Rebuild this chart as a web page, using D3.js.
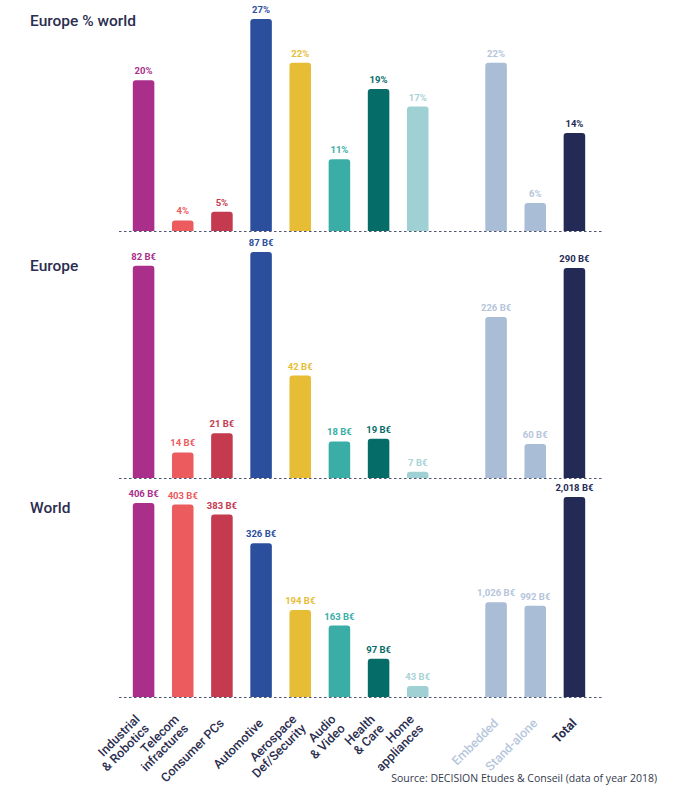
<!DOCTYPE html>
<html>
<head>
<meta charset="utf-8">
<script src="https://cdn.jsdelivr.net/npm/d3@7"></script>
<style>
  body { margin: 0; background: #fff; }
  svg { display: block; font-family: Roboto, "Noto Sans", sans-serif; }
</style>
</head>
<body>
<svg></svg>
<script>
// categories, "|" splits the rotated tick label in two lines
let categories = [
    "Industrial|& Robotics", "Telecom|infractures", "Consumer PCs", "Automotive",
    "Aerospace|Def/Security", "Audio|& Video", "Health|& Care", "Home|appliances",
    "Embedded", "Stand-alone", "Total"
];
let groups = ["sector", "sector", "sector", "sector", "sector", "sector", "sector", "sector",
    "total", "total", "total"];

let europeShare = [20, 4, 5, 27, 22, 11, 19, 17, 22, 6, 14];   // %
let europe = [82, 14, 21, 87, 42, 18, 19, 7, 226, 60, 290];     // B€
let world = [406, 403, 383, 326, 194, 163, 97, 43, 1026, 992, 2018]; // B€

let barColors = ["#a92f8b", "#ec5b5e", "#c43a4f", "#2c4f9d", "#e7bd35", "#3aada6",
    "#056c67", "#9fd0d3", "#a9bdd6", "#a9bdd6", "#242a56"];
let labelColors = ["#a92f8b", "#ec5b5e", "#c43a4f", "#2c4f9d", "#e7bd35", "#3aada6",
    "#056c67", "#a8d3d6", "#b5c5db", "#b5c5db", "#242a56"];

let width = 674,
    height = 793;

let svg = d3.select("svg")
    .attr("width", width)
    .attr("height", height);

let navy = "#2b2e4f";

// one empty slot between Home appliances and Embedded
let slots = categories.slice(0, 8).concat(["gap"], categories.slice(8));
let x = d3.scaleBand()
    .domain(slots)
    .range([124, 594])
    .paddingInner(0.45)
    .paddingOuter(0.225);

let fmt = d3.format(",");

let panels = [
    {
        title: "Europe % world", titleY: 26, base: 231,
        values: europeShare, text: d => d + "%",
        scales: {
            sector: d3.scaleLinear().domain([2.8, 27]).range([231, 19]),
            total: d3.scaleLinear().domain([2.8, 27]).range([231, 19])
        }
    },
    {
        title: "Europe", titleY: 271, base: 478,
        values: europe, text: d => fmt(d) + " B€",
        scales: {
            sector: d3.scaleLinear().domain([4.7, 87]).range([478, 252]),
            total: d3.scaleLinear().domain([15.5, 290]).range([478, 268])
        }
    },
    {
        title: "World", titleY: 513, base: 697,
        values: world, text: d => fmt(d) + " B€",
        scales: {
            sector: d3.scaleLinear().domain([21.2, 406]).range([697, 503]),
            total: d3.scaleLinear().domain([132, 2018]).range([697, 497])
        }
    }
];

function barPath(x0, y0, w, h, r) {
    r = Math.min(r, h, w / 2);
    return `M${x0},${y0 + h}V${y0 + r}Q${x0},${y0} ${x0 + r},${y0}H${x0 + w - r}` +
        `Q${x0 + w},${y0} ${x0 + w},${y0 + r}V${y0 + h}Z`;
}

panels.forEach(p => {
    let g = svg.append("g");

    g.append("text")
        .attr("x", 30)
        .attr("y", p.titleY)
        .attr("fill", navy)
        .attr("font-size", 15.5)
        .attr("font-weight", 500)
        .text(p.title);

    let rows = categories.map((c, i) => ({ cat: c, i: i, v: p.values[i], grp: groups[i] }));

    g.selectAll("path.bar")
        .data(rows)
        .enter().append("path")
        .attr("class", "bar")
        .attr("fill", d => barColors[d.i])
        .attr("d", d => {
            let y = p.scales[d.grp](d.v);
            return barPath(x(d.cat), y, x.bandwidth(), p.base - y, 3);
        });

    g.selectAll("text.val")
        .data(rows)
        .enter().append("text")
        .attr("class", "val")
        .attr("x", d => x(d.cat) + x.bandwidth() / 2)
        .attr("y", d => p.scales[d.grp](d.v) - 6)
        .attr("text-anchor", "middle")
        .attr("font-size", 9.5)
        .attr("font-weight", 700)
        .attr("fill", d => labelColors[d.i])
        .text(d => p.text(d.v));

    g.append("line")
        .attr("x1", 119)
        .attr("x2", 603)
        .attr("y1", p.base + 0.5)
        .attr("y2", p.base + 0.5)
        .attr("stroke", "#4f5470")
        .attr("stroke-width", 1.2)
        .attr("stroke-dasharray", "2.5,2.5");
});

// rotated category labels under the bottom panel
let catLabels = svg.append("g")
    .selectAll("text")
    .data(categories)
    .enter().append("text")
    .attr("transform", d => {
        let cx = x(d) + x.bandwidth() / 2;
        let two = d.indexOf("|") >= 0;
        return `translate(${two ? cx - 3 : cx + 3},${two ? 720 : 724}) rotate(-45)`;
    })
    .attr("text-anchor", "end")
    .attr("font-size", 12.5)
    .attr("font-weight", (d, i) => i === 10 ? 700 : 500)
    .attr("fill", (d, i) => (i === 8 || i === 9) ? "#b7c7dc" : navy);

catLabels.selectAll("tspan")
    .data(d => d.split("|").map((t, k) => ({ t: t, k: k })))
    .enter().append("tspan")
    .attr("x", 0)
    .attr("dy", d => d.k === 0 ? 0 : "1.05em")
    .text(d => d.t);

svg.append("text")
    .attr("x", 657)
    .attr("y", 782)
    .attr("text-anchor", "end")
    .attr("font-family", "'Open Sans', sans-serif")
    .attr("font-size", 10.5)
    .attr("font-weight", 500)
    .attr("fill", "#333a4d")
    .text("Source: DECISION Etudes & Conseil (data of year 2018)");
</script>
</body>
</html>
